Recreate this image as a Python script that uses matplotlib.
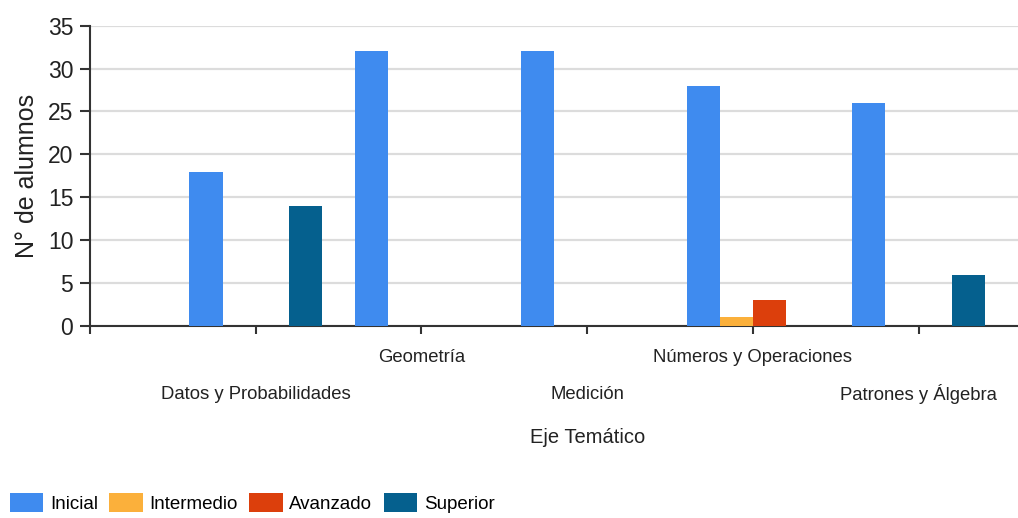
import numpy as np
import matplotlib
matplotlib.use("Agg")
import matplotlib.pyplot as plt

# ----------------------------
# Data
# ----------------------------
categories = ["Datos y Probabilidades", "Geometría", "Medición",
              "Números y Operaciones", "Patrones y Álgebra"]
series = ["Inicial", "Intermedio", "Avanzado", "Superior"]
inicial = [18, 32, 32, 28, 26]
intermedio = [0, 0, 0, 1, 0]
avanzado = [0, 0, 0, 3, 0]
superior = [14, 0, 0, 0, 6]
values = [inicial, intermedio, avanzado, superior]
colors = ["#3f8bef", "#fbb03b", "#dc3f0c", "#05608e"]
y_ticks = [0, 5, 10, 15, 20, 25, 30, 35]

font = ["Liberation Sans", "DejaVu Sans"]
text_col = "#222222"

# ----------------------------
# Figure
# ----------------------------
fig = plt.figure(figsize=(10.18, 5.18), dpi=100)
ax = fig.add_axes([0.0884, 0.3707, 0.9116, 0.5797])

x = np.arange(len(categories))
w = 0.2
for i, (name, vals, c) in enumerate(zip(series, values, colors)):
    ax.bar(x + (i - 1.5) * w, vals, width=w, color=c, label=name, zorder=3)

ax.set_xlim(-1, 4.6)
ax.set_ylim(0, 35)
ax.set_yticks(y_ticks)
ax.set_yticklabels([str(v) for v in y_ticks], family=font, fontsize=16.5, color=text_col)
ax.set_xticks(np.arange(-1, len(categories)))
ax.set_xticklabels([])

ax.grid(axis="y", color="#dcdcdc", lw=1.6, zorder=0)
ax.set_axisbelow(True)
for s in ["top", "right"]:
    ax.spines[s].set_visible(False)
for s in ["left", "bottom"]:
    ax.spines[s].set_color("#333333")
    ax.spines[s].set_linewidth(1.5)
ax.tick_params(axis="y", length=7, width=1.5, color="#333333", pad=5)
ax.tick_params(axis="x", length=6, width=1.5, color="#333333")

# staggered category labels
for i, cat in enumerate(categories):
    off = -23 if i % 2 == 1 else -49
    ax.annotate(cat, xy=(i, 0), xycoords=("data", "axes fraction"),
                xytext=(0, off), textcoords="offset points",
                ha="center", va="center", family=font, fontsize=13.3, color=text_col)

ax.annotate("Eje Temático", xy=(2, 0), xycoords=("data", "axes fraction"),
            xytext=(0, -80), textcoords="offset points",
            ha="center", va="center", family=font, fontsize=14.5, color=text_col)

ax.set_ylabel("N° de alumnos", family=font, fontsize=18, color=text_col, labelpad=6)

fig.legend(loc="lower left", bbox_to_anchor=(0.002, -0.004), ncol=4, frameon=False,
           prop={"family": font, "size": 13.5}, handlelength=1.8, handleheight=1.15,
           handletextpad=0.35, columnspacing=0.6, borderaxespad=0.0)

fig.savefig("out.png", dpi=100)
